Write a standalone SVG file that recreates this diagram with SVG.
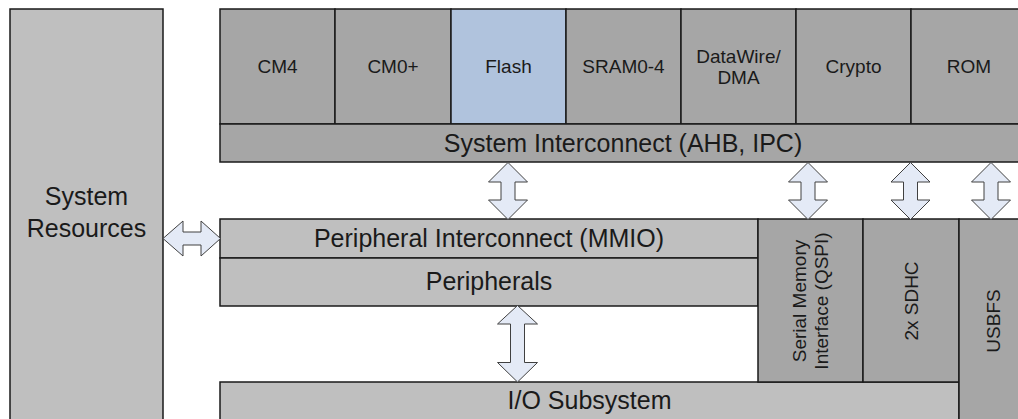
<svg xmlns="http://www.w3.org/2000/svg" width="1018" height="419" viewBox="0 0 1018 419">
<style>
.b{stroke:#1a1a1a;stroke-width:1.5}
.d{fill:#a6a6a6}
.l{fill:#bfbfbf}
.f{fill:#b0c3dd}
.t{font-family:"Liberation Sans",Arial,sans-serif;fill:#1a1a1a;text-anchor:middle}
.s{font-size:19px}
.g{font-size:25px}
.a{fill:#e4eaf6;stroke:#404040;stroke-width:1}
</style>
<defs>
<polygon id="va" points="0,0 19.5,19.5 7,19.5 7,37.5 19.5,37.5 0,57 -19.5,37.5 -7,37.5 -7,19.5 -19.5,19.5"/>
</defs>
<rect fill="#fff" width="1018" height="419"/>
<g id="sysres">
<rect class="b l" x="10" y="9" width="153" height="420"/>
<text class="t g" x="86.5" y="205">System</text>
<text class="t g" x="86.5" y="237">Resources</text>
</g>
<g id="cm4"><rect class="b d" x="220" y="9" width="115" height="115"/><text class="t s" x="277.5" y="73">CM4</text></g>
<g id="cm0"><rect class="b d" x="335" y="9" width="116" height="115"/><text class="t s" x="393" y="73">CM0+</text></g>
<g id="flash"><rect class="b f" x="451" y="9" width="115" height="115"/><text class="t s" x="508.5" y="73">Flash</text></g>
<g id="sram"><rect class="b d" x="566" y="9" width="115" height="115"/><text class="t s" x="623.5" y="73">SRAM0-4</text></g>
<g id="dma"><rect class="b d" x="681" y="9" width="115" height="115"/><text class="t s" x="738.5" y="63">DataWire/</text><text class="t s" x="738.5" y="84">DMA</text></g>
<g id="crypto"><rect class="b d" x="796" y="9" width="115" height="115"/><text class="t s" x="853.5" y="73">Crypto</text></g>
<g id="rom"><rect class="b d" x="911" y="9" width="116" height="115"/><text class="t s" x="969" y="73">ROM</text></g>
<g id="sysic"><rect class="b d" x="220" y="124" width="807" height="38"/><text class="t g" x="623" y="151.5">System Interconnect (AHB, IPC)</text></g>
<g id="periic"><rect class="b l" x="220" y="219" width="538" height="39"/><text class="t g" x="489" y="247">Peripheral Interconnect (MMIO)</text></g>
<g id="peri"><rect class="b l" x="220" y="258" width="538" height="48"/><text class="t g" x="489" y="290">Peripherals</text></g>
<g id="io"><rect class="b l" x="220" y="382" width="739" height="45"/><text class="t g" x="589.5" y="409">I/O Subsystem</text></g>
<g id="smif"><rect class="b d" x="758" y="219" width="105" height="163"/>
<text class="t s" transform="translate(805.5,301) rotate(-90)"><tspan x="0" y="0">Serial Memory</tspan><tspan x="0" y="22">Interface (QSPI)</tspan></text></g>
<g id="sdhc"><rect class="b d" x="863" y="219" width="96" height="163"/><text class="t s" transform="translate(918,301) rotate(-90)">2x SDHC</text></g>
<g id="usbfs"><rect class="b d" x="959" y="219" width="68" height="210"/><text class="t s" transform="translate(1000,321) rotate(-90)">USBFS</text></g>
<g id="connectors">
<polygon class="a" points="163,238.5 183,221 183,232 201,232 201,221 220.5,238.5 201,256 201,245 183,245 183,256"/>
<use href="#va" class="a" x="508" y="162.5"/>
<use href="#va" class="a" x="808" y="162.5"/>
<use href="#va" class="a" x="910.5" y="162.5"/>
<use href="#va" class="a" x="991" y="162.5"/>
<polygon class="a" points="517.5,305.5 537.5,324 524.5,324 524.5,362.5 537.5,362.5 517.5,382 497.5,362.5 510.5,362.5 510.5,324 497.5,324"/>
</g>
</svg>
